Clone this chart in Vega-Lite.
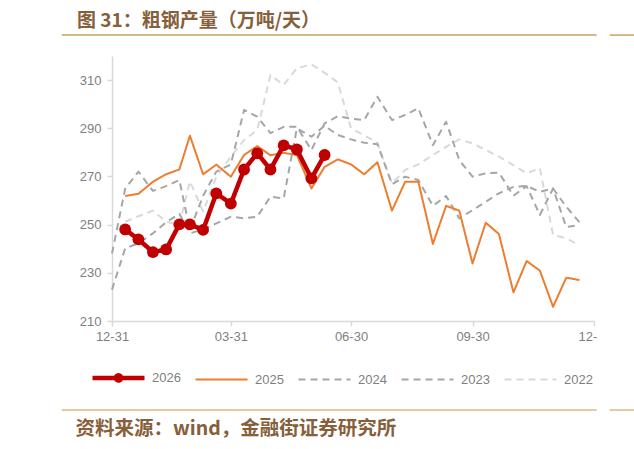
{
  "$schema": "https://vega.github.io/schema/vega-lite/v6.json",
  "width": 482,
  "height": 265,
  "autosize": {"type": "none"},
  "padding": {"left": 112, "top": 56, "right": 40, "bottom": 128},
  "background": "white",
  "config": {"view": {"stroke": null}, "font": "Liberation Sans"},
  "title": {
    "text": "图 31：粗钢产量（万吨/天）",
    "anchor": "start",
    "frame": "group",
    "dx": -35,
    "dy": 21,
    "offset": 5,
    "font": "Noto Sans CJK SC",
    "fontSize": 19,
    "fontWeight": "bold",
    "color": "#86603A",
    "baseline": "bottom"
  },
  "data": {
    "values": [
      {"year": "2022", "d": 10, "v": 251.2}, {"year": "2022", "d": 20, "v": 253.5}, {"year": "2022", "d": 31, "v": 255.8}, {"year": "2022", "d": 41, "v": 251.2}, {"year": "2022", "d": 51, "v": 250.0}, {"year": "2022", "d": 59, "v": 268.0}, {"year": "2022", "d": 69, "v": 255.4}, {"year": "2022", "d": 79, "v": 269.9}, {"year": "2022", "d": 90, "v": 278.2}, {"year": "2022", "d": 100, "v": 285.1}, {"year": "2022", "d": 110, "v": 289.3}, {"year": "2022", "d": 120, "v": 312.1}, {"year": "2022", "d": 130, "v": 308.0}, {"year": "2022", "d": 140, "v": 314.9}, {"year": "2022", "d": 151, "v": 316.5}, {"year": "2022", "d": 161, "v": 313.0}, {"year": "2022", "d": 171, "v": 309.0}, {"year": "2022", "d": 181, "v": 290.0}, {"year": "2022", "d": 191, "v": 287.0}, {"year": "2022", "d": 201, "v": 284.0}, {"year": "2022", "d": 212, "v": 267.1}, {"year": "2022", "d": 222, "v": 272.7}, {"year": "2022", "d": 232, "v": 275.0}, {"year": "2022", "d": 243, "v": 278.9}, {"year": "2022", "d": 253, "v": 282.3}, {"year": "2022", "d": 263, "v": 285.4}, {"year": "2022", "d": 273, "v": 283.7}, {"year": "2022", "d": 283, "v": 281.0}, {"year": "2022", "d": 293, "v": 278.2}, {"year": "2022", "d": 304, "v": 274.7}, {"year": "2022", "d": 314, "v": 271.3}, {"year": "2022", "d": 324, "v": 273.4}, {"year": "2022", "d": 334, "v": 245.7}, {"year": "2022", "d": 344, "v": 244.3}, {"year": "2022", "d": 354, "v": 241.5},
      {"year": "2023", "d": 0, "v": 223.0}, {"year": "2023", "d": 10, "v": 240.2}, {"year": "2023", "d": 20, "v": 242.2}, {"year": "2023", "d": 31, "v": 246.4}, {"year": "2023", "d": 41, "v": 251.0}, {"year": "2023", "d": 51, "v": 254.5}, {"year": "2023", "d": 59, "v": 246.4}, {"year": "2023", "d": 69, "v": 248.0}, {"year": "2023", "d": 79, "v": 250.5}, {"year": "2023", "d": 90, "v": 253.3}, {"year": "2023", "d": 100, "v": 252.6}, {"year": "2023", "d": 110, "v": 253.3}, {"year": "2023", "d": 120, "v": 261.6}, {"year": "2023", "d": 130, "v": 260.9}, {"year": "2023", "d": 140, "v": 290.0}, {"year": "2023", "d": 151, "v": 286.5}, {"year": "2023", "d": 161, "v": 291.0}, {"year": "2023", "d": 171, "v": 287.2}, {"year": "2023", "d": 181, "v": 285.4}, {"year": "2023", "d": 191, "v": 284.0}, {"year": "2023", "d": 201, "v": 283.4}, {"year": "2023", "d": 212, "v": 266.8}, {"year": "2023", "d": 222, "v": 269.9}, {"year": "2023", "d": 232, "v": 268.5}, {"year": "2023", "d": 243, "v": 257.8}, {"year": "2023", "d": 253, "v": 261.9}, {"year": "2023", "d": 263, "v": 252.6}, {"year": "2023", "d": 273, "v": 256.0}, {"year": "2023", "d": 283, "v": 259.5}, {"year": "2023", "d": 293, "v": 263.0}, {"year": "2023", "d": 304, "v": 265.7}, {"year": "2023", "d": 314, "v": 266.1}, {"year": "2023", "d": 324, "v": 263.6}, {"year": "2023", "d": 334, "v": 265.0}, {"year": "2023", "d": 344, "v": 257.4}, {"year": "2023", "d": 354, "v": 251.0},
      {"year": "2024", "d": 0, "v": 238.0}, {"year": "2024", "d": 10, "v": 265.0}, {"year": "2024", "d": 20, "v": 272.0}, {"year": "2024", "d": 31, "v": 264.0}, {"year": "2024", "d": 41, "v": 266.0}, {"year": "2024", "d": 51, "v": 268.5}, {"year": "2024", "d": 59, "v": 247.8}, {"year": "2024", "d": 69, "v": 262.0}, {"year": "2024", "d": 79, "v": 272.0}, {"year": "2024", "d": 90, "v": 275.0}, {"year": "2024", "d": 100, "v": 297.6}, {"year": "2024", "d": 110, "v": 294.8}, {"year": "2024", "d": 120, "v": 288.0}, {"year": "2024", "d": 130, "v": 290.6}, {"year": "2024", "d": 140, "v": 290.6}, {"year": "2024", "d": 151, "v": 281.0}, {"year": "2024", "d": 161, "v": 292.0}, {"year": "2024", "d": 171, "v": 295.0}, {"year": "2024", "d": 181, "v": 294.0}, {"year": "2024", "d": 191, "v": 293.4}, {"year": "2024", "d": 201, "v": 303.1}, {"year": "2024", "d": 212, "v": 293.4}, {"year": "2024", "d": 222, "v": 295.5}, {"year": "2024", "d": 232, "v": 298.3}, {"year": "2024", "d": 243, "v": 283.0}, {"year": "2024", "d": 253, "v": 292.7}, {"year": "2024", "d": 263, "v": 276.8}, {"year": "2024", "d": 273, "v": 269.9}, {"year": "2024", "d": 283, "v": 271.3}, {"year": "2024", "d": 293, "v": 271.6}, {"year": "2024", "d": 304, "v": 262.0}, {"year": "2024", "d": 314, "v": 266.0}, {"year": "2024", "d": 324, "v": 254.0}, {"year": "2024", "d": 334, "v": 265.0}, {"year": "2024", "d": 344, "v": 249.0}, {"year": "2024", "d": 354, "v": 249.8},
      {"year": "2025", "d": 10, "v": 261.9}, {"year": "2025", "d": 20, "v": 262.8}, {"year": "2025", "d": 31, "v": 267.8}, {"year": "2025", "d": 41, "v": 270.9}, {"year": "2025", "d": 51, "v": 272.9}, {"year": "2025", "d": 59, "v": 286.9}, {"year": "2025", "d": 69, "v": 270.9}, {"year": "2025", "d": 79, "v": 274.9}, {"year": "2025", "d": 90, "v": 269.9}, {"year": "2025", "d": 100, "v": 278.9}, {"year": "2025", "d": 110, "v": 282.6}, {"year": "2025", "d": 120, "v": 278.8}, {"year": "2025", "d": 130, "v": 279.8}, {"year": "2025", "d": 140, "v": 278.9}, {"year": "2025", "d": 151, "v": 265.0}, {"year": "2025", "d": 161, "v": 274.0}, {"year": "2025", "d": 171, "v": 277.1}, {"year": "2025", "d": 181, "v": 275.0}, {"year": "2025", "d": 191, "v": 270.9}, {"year": "2025", "d": 201, "v": 275.9}, {"year": "2025", "d": 212, "v": 255.8}, {"year": "2025", "d": 222, "v": 267.8}, {"year": "2025", "d": 232, "v": 267.8}, {"year": "2025", "d": 243, "v": 242.0}, {"year": "2025", "d": 253, "v": 257.8}, {"year": "2025", "d": 263, "v": 255.8}, {"year": "2025", "d": 273, "v": 233.9}, {"year": "2025", "d": 283, "v": 250.8}, {"year": "2025", "d": 293, "v": 246.1}, {"year": "2025", "d": 304, "v": 221.9}, {"year": "2025", "d": 314, "v": 234.9}, {"year": "2025", "d": 324, "v": 230.9}, {"year": "2025", "d": 334, "v": 215.9}, {"year": "2025", "d": 344, "v": 228.0}, {"year": "2025", "d": 354, "v": 227.0},
      {"year": "2026", "d": 10, "v": 248.0}, {"year": "2026", "d": 20, "v": 243.9}, {"year": "2026", "d": 31, "v": 238.6}, {"year": "2026", "d": 41, "v": 239.7}, {"year": "2026", "d": 51, "v": 250.1}, {"year": "2026", "d": 59, "v": 250.1}, {"year": "2026", "d": 69, "v": 247.8}, {"year": "2026", "d": 79, "v": 263.0}, {"year": "2026", "d": 90, "v": 258.7}, {"year": "2026", "d": 100, "v": 272.9}, {"year": "2026", "d": 110, "v": 279.6}, {"year": "2026", "d": 120, "v": 272.9}, {"year": "2026", "d": 130, "v": 282.9}, {"year": "2026", "d": 140, "v": 281.2}, {"year": "2026", "d": 151, "v": 269.2}, {"year": "2026", "d": 161, "v": 278.9}
    ]
  },
  "layer": [
    {
      "mark": {"type": "line", "strokeCap": "butt", "strokeJoin": "round"},
      "encoding": {
        "x": {
          "field": "d", "type": "quantitative",
          "scale": {"domain": [0, 365], "nice": false, "zero": false},
          "axis": {
            "values": [0, 90, 181, 273, 365],
            "labelExpr": "datum.value == 0 ? '12-31' : datum.value == 90 ? '03-31' : datum.value == 181 ? '06-30' : datum.value == 273 ? '09-30' : '12-'",
            "labelAlign": {"condition": {"test": "datum.value == 365", "value": "left"}, "value": "center"},
            "labelOffset": {"condition": {"test": "datum.value == 365", "value": -16}, "value": 0},
            "grid": false,
            "domainColor": "#D9D9D9", "domainWidth": 1.5,
            "tickColor": "#D9D9D9", "tickSize": 5, "tickWidth": 1.5,
            "labelColor": "#7F7F7F", "labelFontSize": 13, "labelPadding": 4, "labelFlush": false,
            "title": "资料来源：wind，金融街证券研究所",
            "titleX": -37, "titleY": 107,
            "titleAlign": "left", "titleBaseline": "middle",
            "titleFont": "Noto Sans CJK SC", "titleFontSize": 19.5, "titleFontWeight": "bold", "titleColor": "#86603A"
          }
        },
        "y": {
          "field": "v", "type": "quantitative",
          "scale": {"domain": [210, 320], "nice": false, "zero": false},
          "axis": {
            "values": [210, 230, 250, 270, 290, 310],
            "grid": false,
            "domainColor": "#D9D9D9", "domainWidth": 1.5,
            "tickColor": "#D9D9D9", "tickSize": 5, "tickWidth": 1.5,
            "labelColor": "#7F7F7F", "labelFontSize": 13, "labelPadding": 6,
            "title": null
          }
        },
        "color": {
          "field": "year", "type": "nominal",
          "scale": {"domain": ["2026", "2025", "2024", "2023", "2022"], "range": ["#C00000", "#ED7D31", "#A6A6A6", "#A6A6A6", "#D9D9D9"]},
          "legend": {
            "title": null, "orient": "none", "legendX": -22, "legendY": 293,
            "direction": "horizontal", "columns": 5,
            "symbolType": "stroke", "symbolSize": 2704, "symbolStrokeWidth": 2,
            "labelFontSize": 13, "labelColor": "#7F7F7F", "labelFont": "Liberation Sans",
            "columnPadding": 10, "labelOffset": 5, "padding": 0,
            "encode": {
              "symbols": {
                "update": {
                  "shape": {"signal": "datum.value === '2026' ? 'M-1,0H1M-0.1,0A0.1,0.1,0,1,1,0.1,0A0.1,0.1,0,1,1,-0.1,0Z' : 'stroke'"},
                  "fill": {"signal": "datum.value === '2026' ? '#C00000' : 'transparent'"},
                  "strokeWidth": {"signal": "datum.value === '2026' ? 4.5 : 2"},
                  "strokeDash": {"signal": "datum.value === '2026' || datum.value === '2025' ? [1, 0] : [7, 5]"}
                }
              }
            }
          }
        },
        "strokeDash": {
          "field": "year", "type": "nominal",
          "scale": {"domain": ["2026", "2025", "2024", "2023", "2022"], "range": [[1, 0], [1, 0], [7, 5], [7, 5], [7, 5]]}
        },
        "strokeWidth": {
          "field": "year", "type": "nominal",
          "scale": {"type": "ordinal", "domain": ["2026", "2025", "2024", "2023", "2022"], "range": [4.5, 2, 2, 2, 2]}
        }
      }
    },
    {
      "transform": [{"filter": "datum.year === '2026'"}],
      "mark": {"type": "point", "filled": true, "size": 140, "opacity": 1, "color": "#C00000", "strokeWidth": 0},
      "encoding": {
        "x": {"field": "d", "type": "quantitative"},
        "y": {"field": "v", "type": "quantitative"}
      }
    },
    {
      "data": {"values": [{}]},
      "mark": {"type": "rule", "color": "#C9A265", "strokeWidth": 1.5},
      "encoding": {"x": {"datum": -38.1, "type": "quantitative"}, "x2": {"datum": 367}, "y": {"datum": 328.7, "type": "quantitative"}}
    },
    {
      "data": {"values": [{}]},
      "mark": {"type": "rule", "color": "#C9A265", "strokeWidth": 1.5},
      "encoding": {"x": {"datum": 376.9, "type": "quantitative"}, "x2": {"datum": 400}, "y": {"datum": 328.7, "type": "quantitative"}}
    },
    {
      "data": {"values": [{}]},
      "mark": {"type": "rule", "color": "#D9BB80", "strokeWidth": 1.5},
      "encoding": {"x": {"datum": -38.1, "type": "quantitative"}, "x2": {"datum": 367}, "y": {"datum": 173.05, "type": "quantitative"}}
    },
    {
      "data": {"values": [{}]},
      "mark": {"type": "rule", "color": "#D9BB80", "strokeWidth": 1.5},
      "encoding": {"x": {"datum": 376.9, "type": "quantitative"}, "x2": {"datum": 400}, "y": {"datum": 173.05, "type": "quantitative"}}
    }
  ]
}
